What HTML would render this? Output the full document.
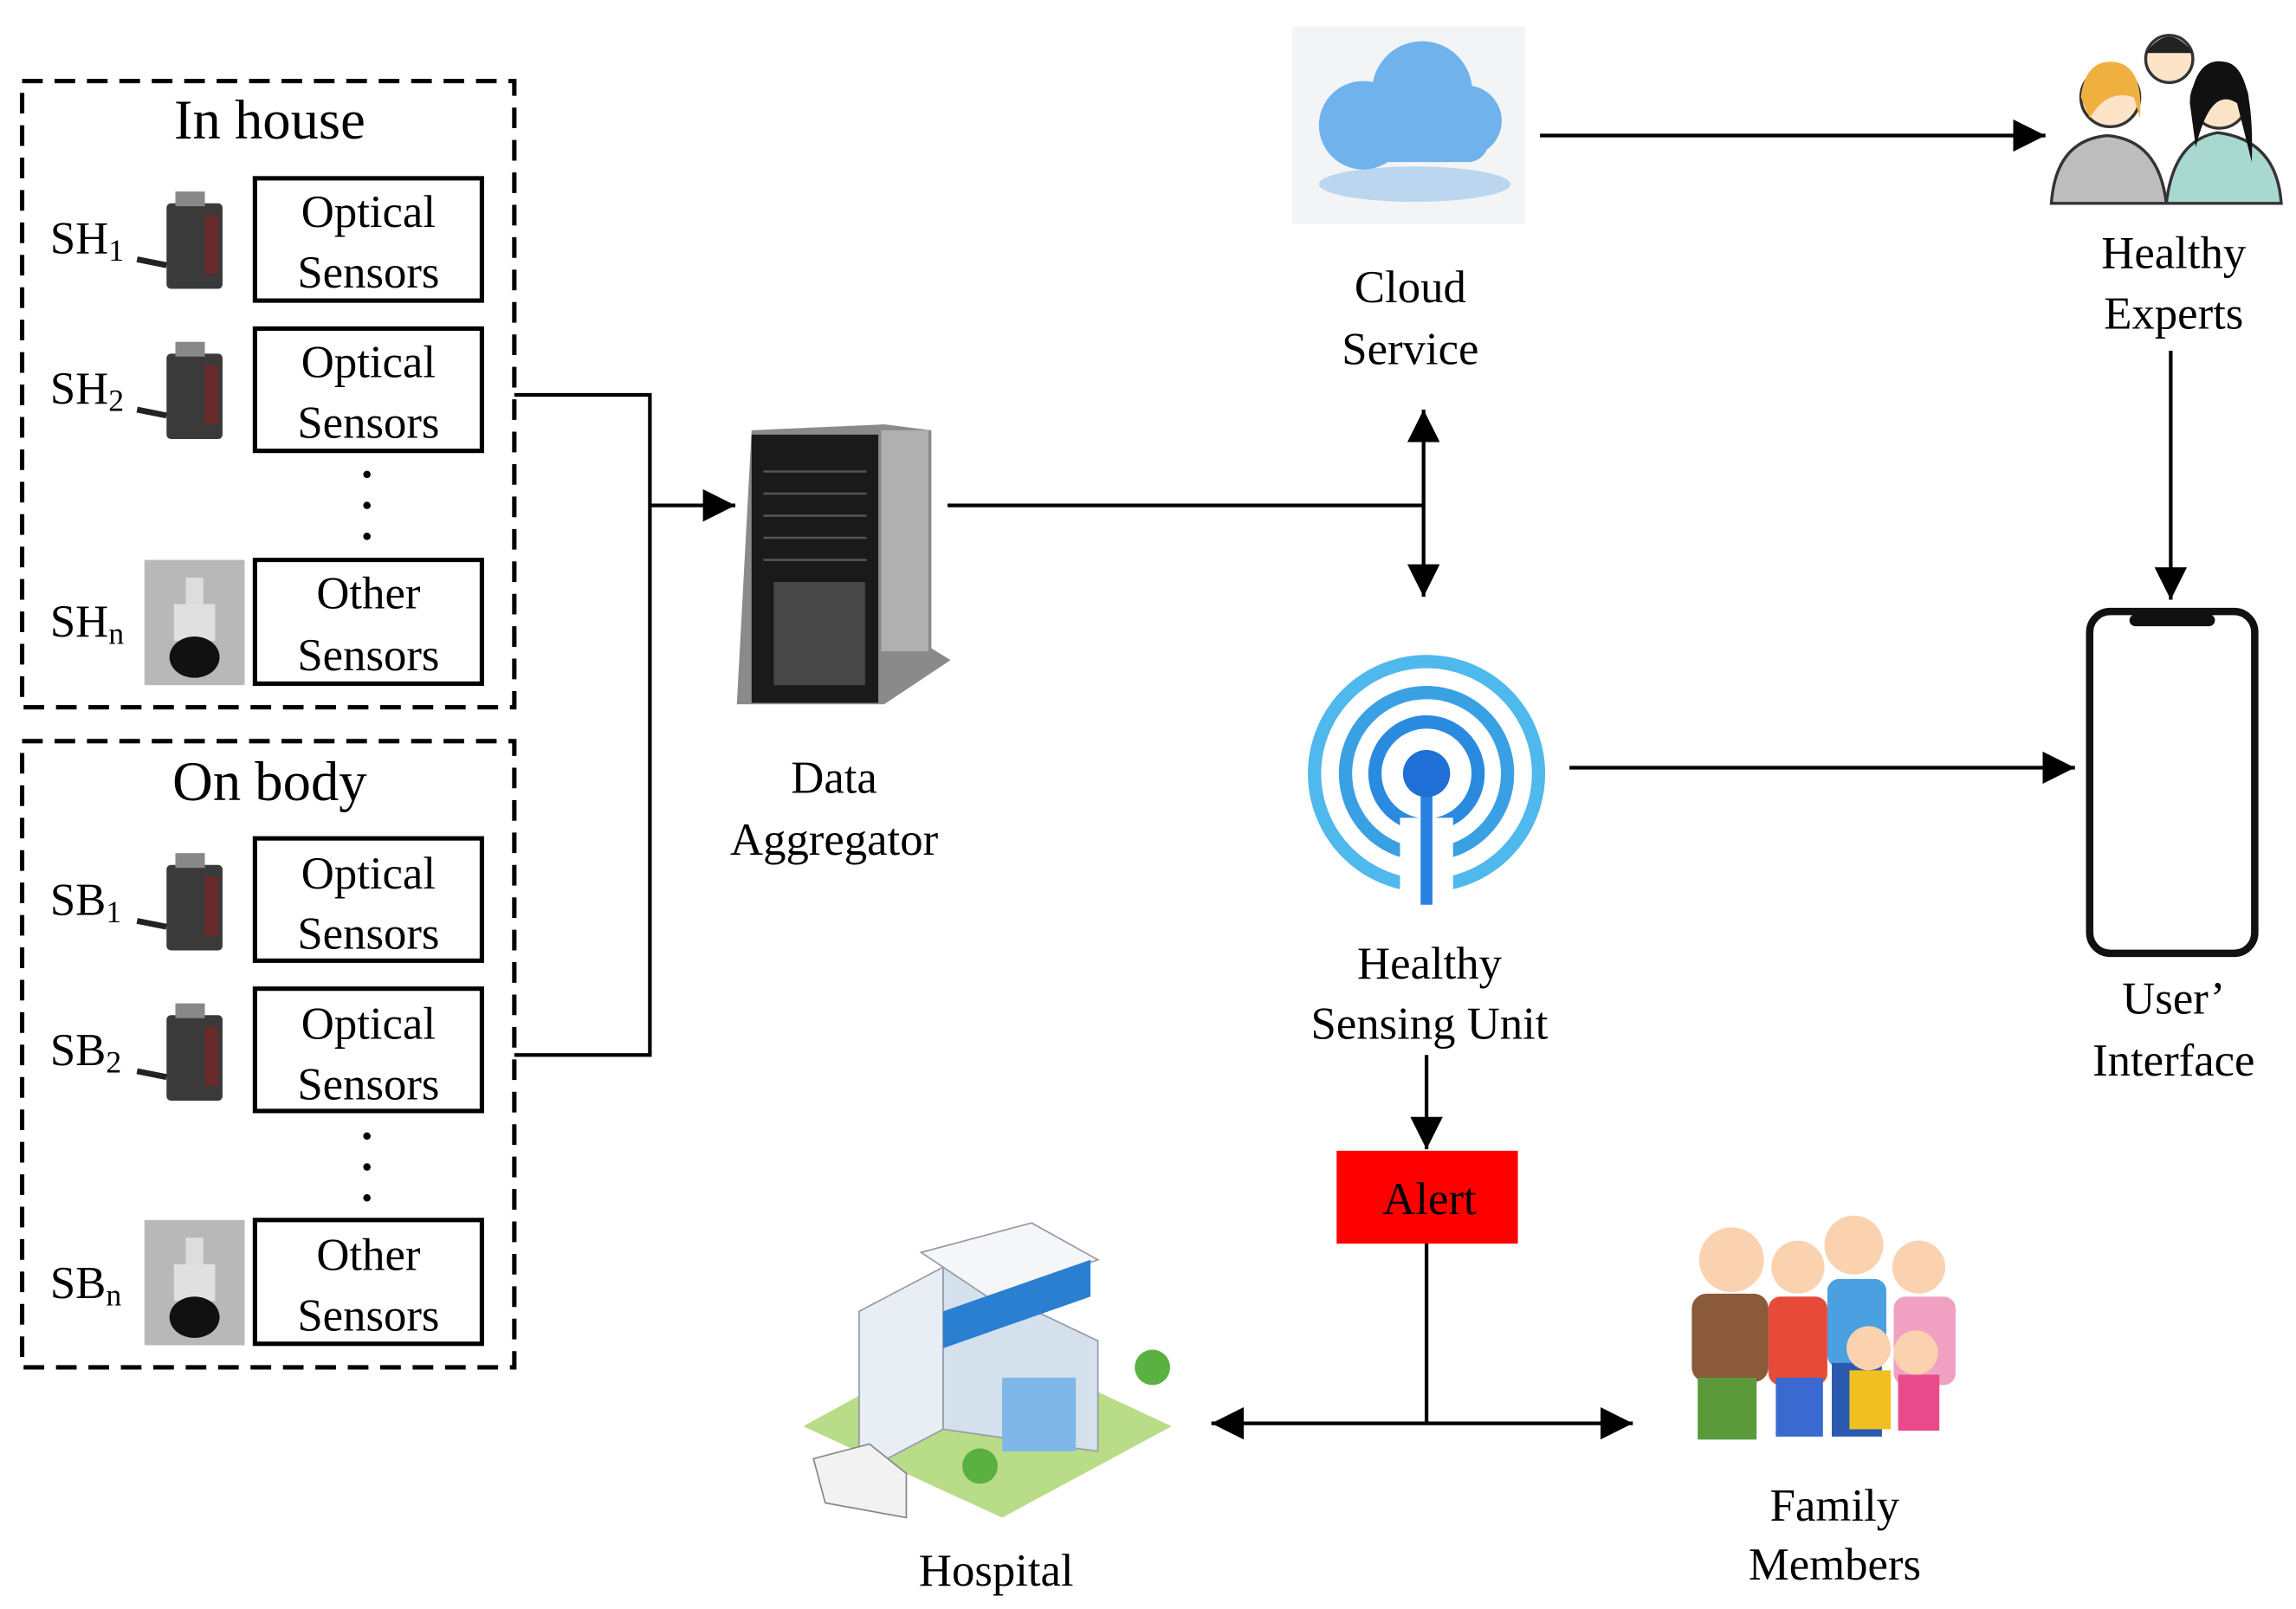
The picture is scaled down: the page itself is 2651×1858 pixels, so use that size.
<!DOCTYPE html>
<html><head><meta charset="utf-8"><style>
html,body{margin:0;padding:0;background:#fff;}
svg{display:block}
text{font-family:"Liberation Serif",serif;fill:#000;}
</style></head><body>
<svg width="2651" height="1858" viewBox="0 0 1558 1092" preserveAspectRatio="none" xmlns="http://www.w3.org/2000/svg">
<defs>
<marker id="arb" markerWidth="22" markerHeight="22" refX="22" refY="11" orient="auto-start-reverse" markerUnits="userSpaceOnUse" viewBox="0 0 22 22">
<path d="M0,0 L22,11 L0,22 z" fill="#000"/></marker>
<g id="opt">
<rect x="0" y="0" width="38" height="58" fill="#3a3a3a" rx="3"/>
<rect x="26" y="8" width="9" height="40" fill="#6a2a2a"/>
<rect x="6" y="-8" width="20" height="10" fill="#888"/>
<path d="M-20,38 L0,42" stroke="#222" stroke-width="4"/>
</g>
<g id="oth">
<rect x="0" y="0" width="68" height="85" fill="#b8b8b8"/>
<rect x="28" y="12" width="12" height="20" fill="#ddd"/>
<rect x="20" y="30" width="28" height="25" fill="#e0e0e0"/>
<ellipse cx="34" cy="66" rx="17" ry="14" fill="#111"/>
</g>
</defs>
<g font-size="31" text-anchor="middle">
<rect x="15" y="55" width="334" height="425" fill="none" stroke="#000" stroke-width="3" stroke-dasharray="14,8"/>
<rect x="15" y="503" width="334" height="425" fill="none" stroke="#000" stroke-width="3" stroke-dasharray="14,8"/>
<text x="183" y="94" font-size="38">In house</text>
<text x="183" y="543" font-size="38">On body</text>
<g fill="none" stroke="#000" stroke-width="3">
<rect x="173" y="121" width="154" height="83"/><rect x="173" y="223" width="154" height="83"/><rect x="173" y="380" width="154" height="84"/>
<rect x="173" y="569" width="154" height="83"/><rect x="173" y="671" width="154" height="83"/><rect x="173" y="828" width="154" height="84"/>
</g>
<text x="250" y="154">Optical</text><text x="250" y="195">Sensors</text>
<text x="250" y="256">Optical</text><text x="250" y="297">Sensors</text>
<text x="250" y="413">Other</text><text x="250" y="455">Sensors</text>
<text x="250" y="603">Optical</text><text x="250" y="644">Sensors</text>
<text x="250" y="705">Optical</text><text x="250" y="746">Sensors</text>
<text x="250" y="862">Other</text><text x="250" y="903">Sensors</text>
<g fill="#000"><circle cx="249" cy="322" r="2.5"/><circle cx="249" cy="343" r="2.5"/><circle cx="249" cy="364" r="2.5"/>
<circle cx="249" cy="771" r="2.5"/><circle cx="249" cy="792" r="2.5"/><circle cx="249" cy="813" r="2.5"/></g>
<g text-anchor="start">
<text x="34" y="172">SH<tspan font-size="21" dy="5">1</tspan></text>
<text x="34" y="274">SH<tspan font-size="21" dy="5">2</tspan></text>
<text x="34" y="432">SH<tspan font-size="21" dy="5">n</tspan></text>
<text x="34" y="621">SB<tspan font-size="21" dy="5">1</tspan></text>
<text x="34" y="723">SB<tspan font-size="21" dy="5">2</tspan></text>
<text x="34" y="881">SB<tspan font-size="21" dy="5">n</tspan></text>
</g>
<use href="#opt" x="113" y="138"/><use href="#opt" x="113" y="240"/>
<use href="#opt" x="113" y="587"/><use href="#opt" x="113" y="689"/>
<use href="#oth" x="98" y="380"/><use href="#oth" x="98" y="828"/>
<path d="M349,268 H441 V716 H349" fill="none" stroke="#000" stroke-width="2.5"/>
<line x1="441" y1="343" x2="499" y2="343" stroke="#000" stroke-width="2.5" marker-end="url(#arb)"/>
<path d="M510,292 L600,288 L632,292 L632,440 L645,448 L600,478 L500,478 Z" fill="#8a8a8a"/>
<rect x="510" y="295" width="86" height="182" fill="#1a1a1a"/>
<rect x="598" y="292" width="32" height="150" fill="#b0b0b0"/>
<g stroke="#555" stroke-width="1.5"><line x1="518" y1="320" x2="588" y2="320"/><line x1="518" y1="335" x2="588" y2="335"/><line x1="518" y1="350" x2="588" y2="350"/><line x1="518" y1="365" x2="588" y2="365"/><line x1="518" y1="380" x2="588" y2="380"/></g>
<rect x="525" y="395" width="62" height="70" fill="#666" opacity="0.6"/>
<text x="566" y="538">Data</text><text x="566" y="580">Aggregator</text>
<line x1="643" y1="343" x2="966" y2="343" stroke="#000" stroke-width="2.5"/>
<line x1="966" y1="278" x2="966" y2="405" stroke="#000" stroke-width="2.5" marker-start="url(#arb)" marker-end="url(#arb)"/>
<rect x="877" y="18" width="158" height="134" fill="#f2f4f6"/>
<ellipse cx="960" cy="125" rx="65" ry="12" fill="#bcd6f0"/>
<g fill="#6fb2ec"><circle cx="925" cy="85" r="30"/><circle cx="965" cy="62" r="34"/><circle cx="995" cy="82" r="24"/><rect x="905" y="80" width="105" height="30" rx="14"/></g>
<text x="957" y="205">Cloud</text><text x="957" y="247">Service</text>
<line x1="1045" y1="92" x2="1388" y2="92" stroke="#000" stroke-width="2.5" marker-end="url(#arb)"/>
<path d="M1392,138 Q1395,95 1430,92 Q1465,95 1470,138 Z" fill="#bdbdbd" stroke="#333" stroke-width="2"/>
<path d="M1470,138 Q1475,95 1505,90 Q1545,95 1548,138 Z" fill="#a8d8d0" stroke="#333" stroke-width="2"/>
<circle cx="1432" cy="66" r="20" fill="#fde4c8" stroke="#333" stroke-width="2"/>
<path d="M1412,66 Q1415,40 1435,42 Q1455,45 1452,80 L1448,66 Q1430,60 1418,80 Z" fill="#f0b040"/>
<circle cx="1472" cy="40" r="16" fill="#fde4c8" stroke="#333" stroke-width="2"/>
<path d="M1456,36 Q1472,14 1488,36 Z" fill="#222"/>
<circle cx="1506" cy="68" r="19" fill="#fde4c8" stroke="#333" stroke-width="2"/>
<path d="M1486,70 Q1490,38 1510,42 Q1530,45 1528,110 L1518,70 Q1500,58 1490,100 Z" fill="#111"/>
<text x="1475" y="182">Healthy</text><text x="1475" y="223">Experts</text>
<line x1="1473" y1="238" x2="1473" y2="407" stroke="#000" stroke-width="2.5" marker-end="url(#arb)"/>
<rect x="1418" y="415" width="112" height="232" rx="14" fill="#fff" stroke="#111" stroke-width="5"/>
<rect x="1445" y="417" width="58" height="8" rx="4" fill="#111"/>
<text x="1475" y="688">User’</text><text x="1475" y="730">Interface</text>
<g fill="none" stroke="#4fb8ec" stroke-width="9">
<circle cx="968" cy="525" r="76"/><circle cx="968" cy="525" r="55" stroke="#3aa0e4"/><circle cx="968" cy="525" r="35" stroke="#2a8ae0"/></g>
<rect x="950" y="555" width="36" height="70" fill="#fff"/>
<line x1="968" y1="525" x2="968" y2="614" stroke="#2a80e0" stroke-width="8"/>
<circle cx="968" cy="525" r="16" fill="#1f6fd6"/>
<text x="970" y="664">Healthy</text><text x="970" y="705">Sensing Unit</text>
<line x1="1065" y1="521" x2="1408" y2="521" stroke="#000" stroke-width="2.5" marker-end="url(#arb)"/>
<line x1="968" y1="716" x2="968" y2="780" stroke="#000" stroke-width="2.5" marker-end="url(#arb)"/>
<rect x="907" y="781" width="123" height="63" fill="#ff0000"/>
<text x="970" y="824">Alert</text>
<line x1="968" y1="844" x2="968" y2="966" stroke="#000" stroke-width="2.5"/>
<line x1="822" y1="966" x2="1108" y2="966" stroke="#000" stroke-width="2.5" marker-start="url(#arb)" marker-end="url(#arb)"/>
<path d="M545,968 L660,905 L795,968 L680,1030 Z" fill="#b8dc88"/>
<path d="M583,890 L640,860 L640,970 L583,1000 Z" fill="#e8eef4" stroke="#99a" stroke-width="1"/>
<path d="M640,860 L745,910 L745,985 L640,970 Z" fill="#d4e0ec" stroke="#99a" stroke-width="1"/>
<path d="M625,850 L700,830 L745,855 L670,880 Z" fill="#f4f6f8" stroke="#99a"/>
<path d="M640,890 L740,855 L740,880 L640,915 Z" fill="#2a7fd0"/>
<rect x="680" y="935" width="50" height="50" fill="#7fb8e8"/>
<circle cx="782" cy="928" r="12" fill="#5ab040"/><circle cx="665" cy="995" r="12" fill="#5ab040"/>
<path d="M552,990 L590,980 L615,1000 L615,1030 L560,1020 Z" fill="#f2f2f2" stroke="#888"/>
<text x="676" y="1076">Hospital</text>
<circle cx="1175" cy="855" r="22" fill="#fbd2b0"/><rect x="1148" y="878" width="52" height="60" rx="10" fill="#8a5a3a"/><rect x="1152" y="935" width="40" height="42" fill="#5a9a3a"/>
<circle cx="1258" cy="845" r="20" fill="#fbd2b0"/><rect x="1240" y="868" width="40" height="60" rx="8" fill="#4aa0e0"/><rect x="1243" y="925" width="34" height="50" fill="#2a5ab0"/>
<circle cx="1220" cy="860" r="18" fill="#fbd2b0"/><rect x="1200" y="880" width="40" height="60" rx="8" fill="#e84a3a"/><rect x="1205" y="935" width="32" height="40" fill="#3a6ad0"/>
<circle cx="1302" cy="860" r="18" fill="#fbd2b0"/><rect x="1285" y="880" width="42" height="60" rx="8" fill="#f0a0c0"/>
<circle cx="1268" cy="915" r="15" fill="#fbd2b0"/><rect x="1255" y="930" width="28" height="40" fill="#f0c020"/>
<circle cx="1300" cy="918" r="15" fill="#fbd2b0"/><rect x="1288" y="933" width="28" height="38" fill="#e84a8a"/>
<text x="1245" y="1032">Family</text><text x="1245" y="1072">Members</text>
</g>
</svg>
</body></html>
